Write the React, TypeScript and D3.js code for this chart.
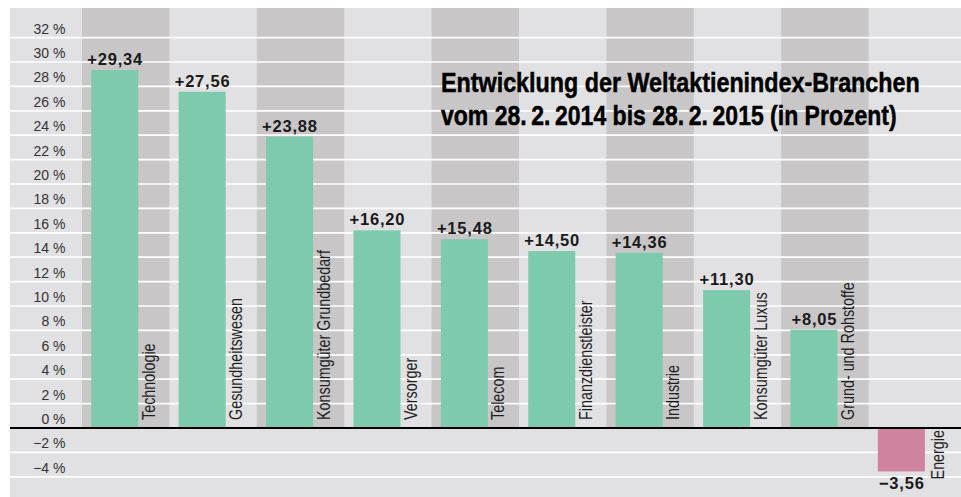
import React from "react";
import * as d3 from "d3";

const categories = [
  "Technologie",
  "Gesundheitswesen",
  "Konsumgüter Grundbedarf",
  "Versorger",
  "Telecom",
  "Finanzdienstleister",
  "Industrie",
  "Konsumgüter Luxus",
  "Grund- und Rohstoffe",
  "Energie",
];
const values = [29.34, 27.56, 23.88, 16.2, 15.48, 14.5, 14.36, 11.3, 8.05, -3.56];
const yTicks = [-4, -2, 0, 2, 4, 6, 8, 10, 12, 14, 16, 18, 20, 22, 24, 26, 28, 30, 32];
const titleLines = [
  "Entwicklung der Weltaktienindex-Branchen",
  "vom 28.\u20092.\u20092014 bis 28.\u20092.\u20092015 (in Prozent)",
];

const W = 961;
const H = 497;
const LIGHT = "#e1e0e2";
const DARK = "#c8c6c7";
const GREEN = "#7dcaad";
const PINK = "#cf839e";

const fmt = (v: number) =>
  (v >= 0 ? "+" : "\u2212") + Math.abs(v).toFixed(2).replace(".", ",");
const fmtTick = (v: number) => (v < 0 ? "\u2212" + Math.abs(v) : String(v)) + " %";

export default function App() {
  const x = d3.scaleBand<string>().domain(categories).range([82, 956]).padding(0);
  const y = d3.scaleLinear().domain([0, 32]).range([428, 37.6]);
  const bw = x.bandwidth();
  const barOff = bw * 0.106;
  const barW = bw * 0.538;
  const font = "'Liberation Sans', Arial, Helvetica, sans-serif";

  return (
    <svg
      width={W}
      height={H}
      style={{ position: "absolute", left: 0, top: 0, display: "block" }}
    >
      <rect x={10} y={8} width={W - 10} height={H - 8} fill={LIGHT} />
      {categories.map((c, i) =>
        i % 2 === 0 ? (
          <rect
            key={"bg" + c}
            x={x(c)!}
            y={8}
            width={bw}
            height={y(0) - 8}
            fill={DARK}
          />
        ) : null
      )}
      {yTicks
        .filter((t) => t !== 0)
        .map((t) => (
          <line
            key={"g" + t}
            x1={10}
            x2={W}
            y1={y(t)}
            y2={y(t)}
            stroke="#ffffff"
            strokeWidth={1.7}
          />
        ))}
      {yTicks.map((t) => (
        <text
          key={"t" + t}
          x={65.5}
          y={y(t) - 4}
          textAnchor="end"
          fontFamily={font}
          fontSize={14}
          fill="#333"
        >
          {fmtTick(t)}
        </text>
      ))}
      {categories.map((c, i) => {
        const v = values[i];
        const x0 = x(c)! + barOff;
        const top = y(Math.max(0, v));
        const bot = y(Math.min(0, v));
        return (
          <rect
            key={"b" + c}
            x={x0}
            y={top}
            width={barW}
            height={bot - top}
            fill={v >= 0 ? GREEN : PINK}
          />
        );
      })}
      <line x1={10} x2={W} y1={y(0)} y2={y(0)} stroke="#000" strokeWidth={2} />
      {categories.map((c, i) => {
        const v = values[i];
        const cx = x(c)! + barOff + barW / 2;
        const ly = v >= 0 ? y(v) - 5 : y(v) + 17.6;
        return (
          <text
            key={"v" + c}
            x={cx + 0.4}
            y={ly}
            textAnchor="middle"
            fontFamily={font}
            fontWeight="bold"
            fontSize={16.5}
            letterSpacing={0.8}
            fill="#1a1a1a"
          >
            {fmt(v)}
          </text>
        );
      })}
      {categories.map((c, i) => {
        const v = values[i];
        const lx = x(c)! + barOff + barW + (v >= 0 ? 16.5 : 19);
        const ly = v >= 0 ? y(0) - 8 : y(v) + 8;
        return (
          <text
            key={"l" + c}
            transform={`translate(${lx},${ly}) rotate(-90) scale(0.82,1)`}
            fontFamily={font}
            fontSize={17.5}
            fill="#1f1f1f"
          >
            {c}
          </text>
        );
      })}
      {titleLines.map((t, i) => (
        <text
          key={"title" + i}
          transform={`translate(441,${91.7 + i * 33.3}) scale(${i === 0 ? 0.833 : 0.822},1)`}
          fontFamily={font}
          fontWeight="bold"
          fontSize={28}
          fill="#000"
          stroke="#000"
          strokeWidth={0.5}
        >
          {t}
        </text>
      ))}
    </svg>
  );
}
